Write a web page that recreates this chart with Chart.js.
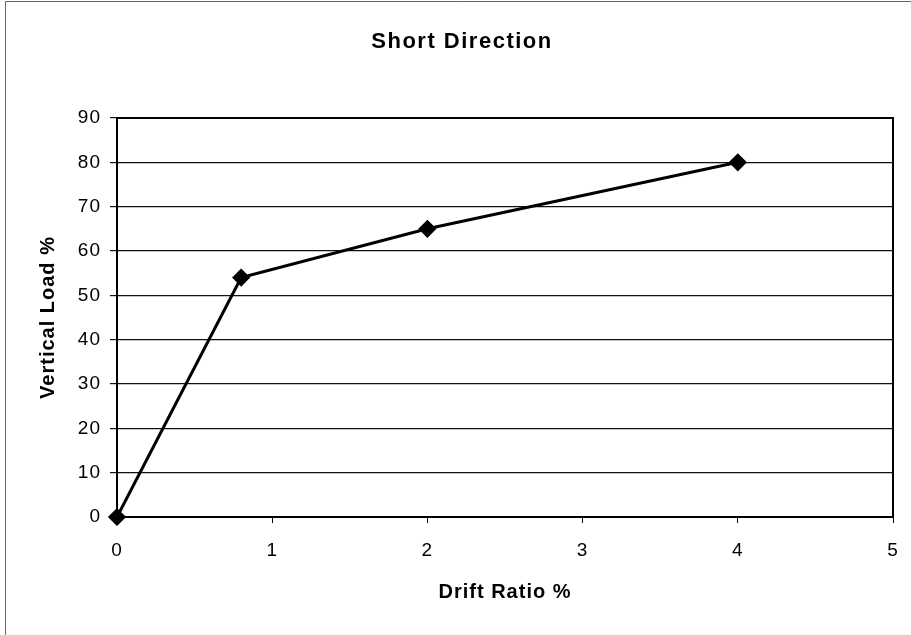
<!DOCTYPE html>
<html>
<head>
<meta charset="utf-8">
<script src="https://cdn.jsdelivr.net/npm/chart.js@4/dist/chart.umd.min.js"></script>
<style>
  html, body { margin: 0; padding: 0; background: #fff; }
  #wrap { position: relative; width: 911px; height: 635px; }
</style>
</head>
<body>
<div id="wrap"><canvas id="chart"></canvas></div>
<script>
// Short direction: vertical load vs drift ratio
const driftRatio = [0, 0.8, 2, 4];
const verticalLoad = [0, 54, 65, 80];
const xTicks = [0, 1, 2, 3, 4, 5];
const yTicks = [0, 10, 20, 30, 40, 50, 60, 70, 80, 90];

const FONT = '"Liberation Sans", Arial, sans-serif';
const SPACING = '1px';

// letter spacing + plot frame + outer frame + title
const framePlugin = {
  id: 'frame',
  beforeLayout(chart) { chart.ctx.letterSpacing = SPACING; },
  beforeDraw(chart) { chart.ctx.letterSpacing = SPACING; },
  beforeDatasetsDraw(chart) {
    const { ctx, chartArea: a } = chart;
    ctx.save();
    ctx.strokeStyle = '#000';
    ctx.lineWidth = 2;
    ctx.strokeRect(a.left, a.top, a.right - a.left, a.bottom - a.top);
    ctx.restore();
  },
  afterDraw(chart) {
    const { ctx } = chart;
    ctx.save();
    ctx.strokeStyle = '#666';
    ctx.lineWidth = 1;
    ctx.beginPath();
    ctx.moveTo(5.5, 635);
    ctx.lineTo(5.5, 1.5);
    ctx.lineTo(911, 1.5);
    ctx.stroke();
    ctx.fillStyle = '#000';
    ctx.letterSpacing = '1.5px';
    ctx.font = 'bold 22px ' + FONT;
    ctx.textAlign = 'center';
    ctx.textBaseline = 'middle';
    ctx.fillText('Short Direction', 462, 42);
    ctx.restore();
  }
};

new Chart(document.getElementById('chart'), {
  type: 'scatter',
  data: {
    datasets: [{
      data: driftRatio.map((x, i) => ({ x, y: verticalLoad[i] })),
      showLine: true,
      clip: false,
      borderColor: '#000',
      backgroundColor: '#000',
      borderWidth: 3,
      pointStyle: 'rectRot',
      pointRadius: 7,
      pointHoverRadius: 7
    }]
  },
  options: {
    responsive: true,
    maintainAspectRatio: false,
    animation: false,
    layout: { padding: { top: 118, right: 18, bottom: 0, left: 0 } },
    plugins: { legend: { display: false }, tooltip: { enabled: false } },
    scales: {
      x: {
        type: 'linear',
        min: 0, max: 5,
        afterBuildTicks: s => { s.ticks = xTicks.map(v => ({ value: v })); },
        afterFit: s => { s.height = 118; s.paddingLeft = 0; s.paddingRight = 0; },
        grid: { drawOnChartArea: false, color: '#000', lineWidth: 1, tickLength: 6 },
        border: { display: false },
        ticks: { color: '#000', padding: 16, font: { family: FONT, size: 19 } },
        title: {
          display: true, text: 'Drift Ratio %', color: '#000',
          font: { family: FONT, size: 20, weight: 'bold' },
          padding: { top: 31, bottom: 31 }
        }
      },
      y: {
        min: 0, max: 90,
        afterBuildTicks: s => { s.ticks = yTicks.map(v => ({ value: v })); },
        afterFit: s => { s.width = 117; s.paddingTop = 0; s.paddingBottom = 0; },
        grid: { color: '#111', lineWidth: 1.2, tickLength: 7 },
        border: { display: false },
        ticks: { color: '#000', padding: 9, font: { family: FONT, size: 19 } },
        title: {
          display: true, text: 'Vertical Load %', color: '#000',
          font: { family: FONT, size: 20, weight: 'bold' },
          padding: { top: 36, bottom: 36 }
        }
      }
    }
  },
  plugins: [framePlugin]
});
</script>
</body>
</html>
